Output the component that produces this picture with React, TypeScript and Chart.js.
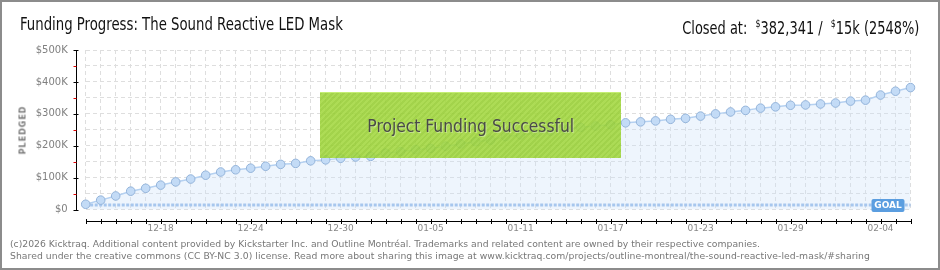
import React, { useEffect, useRef } from "react";
import { Chart, registerables } from "chart.js";

Chart.register(...registerables);

const dates: string[] = [
  "12-13", "12-14", "12-15", "12-16", "12-17", "12-18", "12-19", "12-20", "12-21", "12-22",
  "12-23", "12-24", "12-25", "12-26", "12-27", "12-28", "12-29", "12-30", "12-31", "01-01",
  "01-02", "01-03", "01-04", "01-05", "01-06", "01-07", "01-08", "01-09", "01-10", "01-11",
  "01-12", "01-13", "01-14", "01-15", "01-16", "01-17", "01-18", "01-19", "01-20", "01-21",
  "01-22", "01-23", "01-24", "01-25", "01-26", "01-27", "01-28", "01-29", "01-30", "01-31",
  "02-01", "02-02", "02-03", "02-04", "02-05", "02-06",
];

const pledged: number[] = [
  17000, 30000, 43000, 58000, 67000, 77000, 87000, 96000, 108000, 118000,
  125000, 130000, 136000, 142000, 145000, 153000, 156000, 161000, 165000, 167000,
  177000, 182000, 188000, 192000, 199000, 206000, 213000, 218000, 229000, 234000,
  240000, 246000, 252000, 258000, 262000, 266000, 272000, 275000, 278000, 283000,
  286000, 293000, 300000, 306000, 311000, 318000, 322000, 327000, 328000, 331000,
  334000, 340000, 343000, 359000, 371000, 382341,
];

const goal = 15000;
const goalLine: number[] = dates.map(() => goal);

const xTickLabels: string[] = ["12-18", "12-24", "12-30", "01-05", "01-11", "01-17", "01-23", "01-29", "02-04"];
const yTickValues: number[] = [0, 100000, 200000, 300000, 400000, 500000];
const yTickLabels: string[] = ["$0", "$100K", "$200K", "$300K", "$400K", "$500K"];

const TITLE = "Funding Progress: The Sound Reactive LED Mask";
const FOOTER1 =
  "(c)2026 Kicktraq. Additional content provided by Kickstarter Inc. and Outline Montréal. Trademarks and related content are owned by their respective companies.";
const FOOTER2 =
  "Shared under the creative commons (CC BY-NC 3.0) license. Read more about sharing this image at www.kicktraq.com/projects/outline-montreal/the-sound-reactive-led-mask/#sharing";

const NARROW = '"Liberation Sans Narrow", "DejaVu Sans Condensed", "Liberation Sans", sans-serif';
const SMALL = '"DejaVu Sans", Verdana, sans-serif';

const axesPlugin = {
  id: "customAxes",
  afterDraw(chart: any) {
    const { ctx, chartArea, scales } = chart;
    const x = scales.x;
    const y = scales.y;
    ctx.save();
    // y axis
    const ax = Math.round(chartArea.left - 10) + 0.5;
    ctx.lineWidth = 1;
    ctx.strokeStyle = "#000";
    ctx.beginPath();
    ctx.moveTo(ax, Math.round(y.getPixelForValue(500000)));
    ctx.lineTo(ax, Math.round(y.getPixelForValue(0)) + 1);
    ctx.stroke();
    for (let v = 0; v <= 500000; v += 50000) {
      const py = Math.round(y.getPixelForValue(v)) + 0.5;
      ctx.beginPath();
      if (v % 100000 === 0) {
        ctx.strokeStyle = "#000";
        ctx.moveTo(ax - 3, py);
        ctx.lineTo(ax + 2, py);
      } else {
        ctx.strokeStyle = "#e00000";
        ctx.moveTo(ax - 3, py);
        ctx.lineTo(ax, py);
      }
      ctx.stroke();
    }
    // x axis
    const ay = Math.round(chartArea.bottom + 11) + 0.5;
    ctx.strokeStyle = "#000";
    ctx.beginPath();
    ctx.moveTo(Math.round(chartArea.left), ay);
    ctx.lineTo(Math.round(chartArea.right) + 1, ay);
    ctx.stroke();
    for (let i = 0; i < dates.length; i++) {
      const px = Math.round(x.getPixelForValue(i)) + 0.5;
      ctx.beginPath();
      ctx.moveTo(px, ay - 2.5);
      ctx.lineTo(px, ay + 2.5);
      ctx.stroke();
    }
    // goal label
    const gy = y.getPixelForValue(goal);
    const bw = 33;
    const bh = 13;
    const bx = chartArea.right - 39;
    const by = gy - 6;
    ctx.fillStyle = "#5b9ee0";
    ctx.beginPath();
    if (ctx.roundRect) ctx.roundRect(bx, by, bw, bh, 2);
    else ctx.rect(bx, by, bw, bh);
    ctx.fill();
    ctx.fillStyle = "#ffffff";
    ctx.font = "bold 9px " + SMALL;
    ctx.textAlign = "center";
    ctx.textBaseline = "middle";
    ctx.fillText("GOAL", bx + bw / 2, by + bh / 2 + 0.5);
    ctx.restore();
  },
};

function FundingChart() {
  const ref = useRef<HTMLCanvasElement | null>(null);
  useEffect(() => {
    if (!ref.current) return;
    const chart = new Chart(ref.current, {
      type: "line",
      data: {
        labels: dates,
        datasets: [
          {
            label: "Pledged",
            data: pledged,
            borderColor: "#b5d1f1",
            borderWidth: 1.5,
            backgroundColor: "rgba(205,225,250,0.35)",
            fill: "origin",
            pointRadius: 4.3,
            pointBackgroundColor: "#c3dbf6",
            pointBorderColor: "#94b4da",
            pointBorderWidth: 1,
            tension: 0,
          },
          {
            label: "Goal",
            data: goalLine,
            borderColor: "#93b8e8",
            borderWidth: 3,
            borderDash: [3, 1.5],
            pointRadius: 0,
            fill: false,
          },
        ],
      },
      options: {
        responsive: false,
        animation: false,
        devicePixelRatio: 1,
        layout: { padding: { left: 0, right: 29.5, top: 50, bottom: 30.3 } },
        plugins: {
          legend: { display: false },
          tooltip: { enabled: false },
          title: { display: false },
        },
        scales: {
          x: {
            type: "category",
            offset: false,
            border: { display: false, dash: [4, 3] },
            grid: { color: "#dedede", lineWidth: 1, drawTicks: false, offset: false },
            ticks: {
              autoSkip: false,
              maxRotation: 0,
              minRotation: 0,
              padding: 14,
              color: "#888",
              font: { family: SMALL, size: 9 },
              callback: (_v: any, i: number) => (xTickLabels.includes(dates[i]) ? dates[i] : ""),
            },
            afterFit: (s: any) => {
              s.height = 30;
            },
          },
          y: {
            min: 0,
            max: 500000,
            border: { display: false, dash: [4, 3] },
            grid: { color: "#dedede", lineWidth: 1, drawTicks: false },
            ticks: {
              stepSize: 50000,
              padding: 18,
              color: "#808080",
              font: { family: SMALL, size: 10 },
              callback: (v: any) => {
                const idx = yTickValues.indexOf(Number(v));
                return idx >= 0 ? yTickLabels[idx] : "";
              },
            },
            afterFit: (s: any) => {
              s.width = 85.7;
            },
          },
        },
      },
      plugins: [axesPlugin],
    });
    return () => chart.destroy();
  }, []);
  return <canvas ref={ref} width={940} height={270} style={{ position: "absolute", left: 0, top: 0, width: 940, height: 270 }} />;
}

export default function App() {
  return (
    <div style={{ position: "relative", width: 940, height: 270, background: "#fff", overflow: "hidden" }}>
      <style>{`body{margin:0;}`}</style>
      <FundingChart />
      <div
        style={{
          position: "absolute",
          left: 20,
          top: 15,
          fontFamily: NARROW,
          fontSize: 18,
          lineHeight: "18px",
          color: "#111",
          whiteSpace: "nowrap",
          transform: "scaleX(0.82)",
          transformOrigin: "left center",
        }}
      >
        {TITLE}
      </div>
      <div
        style={{
          position: "absolute",
          right: 21,
          top: 15,
          fontFamily: NARROW,
          fontSize: 18,
          lineHeight: "18px",
          color: "#111",
          whiteSpace: "nowrap",
          transform: "scaleX(0.8)",
          transformOrigin: "right center",
        }}
      >
        Closed at:&nbsp; <sup style={{ fontSize: 11 }}>$</sup>382,341 /&nbsp; <sup style={{ fontSize: 11 }}>$</sup>15k (2548%)
      </div>
      <div
        style={{
          position: "absolute",
          left: 23,
          top: 130,
          transform: "translate(-50%, -50%) rotate(-90deg)",
          fontFamily: SMALL,
          fontSize: 8,
          fontWeight: "bold",
          letterSpacing: 1,
          color: "#777",
          whiteSpace: "nowrap",
        }}
      >
        PLEDGED
      </div>
      <div
        style={{
          position: "absolute",
          left: 320,
          top: 92,
          width: 301,
          height: 66,
          background:
            "repeating-linear-gradient(135deg, rgba(150,205,50,0.88) 0px, rgba(150,205,50,0.88) 2px, rgba(162,215,62,0.88) 2px, rgba(162,215,62,0.88) 4px)",
          borderTop: "1px solid rgba(200,240,120,0.9)",
          boxSizing: "border-box",
          display: "flex",
          alignItems: "center",
          justifyContent: "center",
        }}
      >
        <span
          style={{
            display: "inline-block",
            fontFamily: NARROW,
            fontSize: 18,
            color: "#4a4a4a",
            textShadow: "1px 1px 0 rgba(255,255,255,0.35)",
            whiteSpace: "nowrap",
            transform: "scaleX(0.96)",
          }}
        >
          Project Funding Successful
        </span>
      </div>
      <div
        style={{
          position: "absolute",
          left: 10,
          top: 238,
          fontFamily: SMALL,
          fontSize: 9.25,
          lineHeight: "11.5px",
          color: "#777",
          whiteSpace: "nowrap",
        }}
      >
        <div>{FOOTER1}</div>
        <div style={{ letterSpacing: 0.05 }}>{FOOTER2}</div>
      </div>
      <div
        style={{
          position: "absolute",
          left: 0,
          top: 0,
          width: 940,
          height: 270,
          boxSizing: "border-box",
          border: "2px solid #8c8c8c",
          pointerEvents: "none",
        }}
      />
    </div>
  );
}
